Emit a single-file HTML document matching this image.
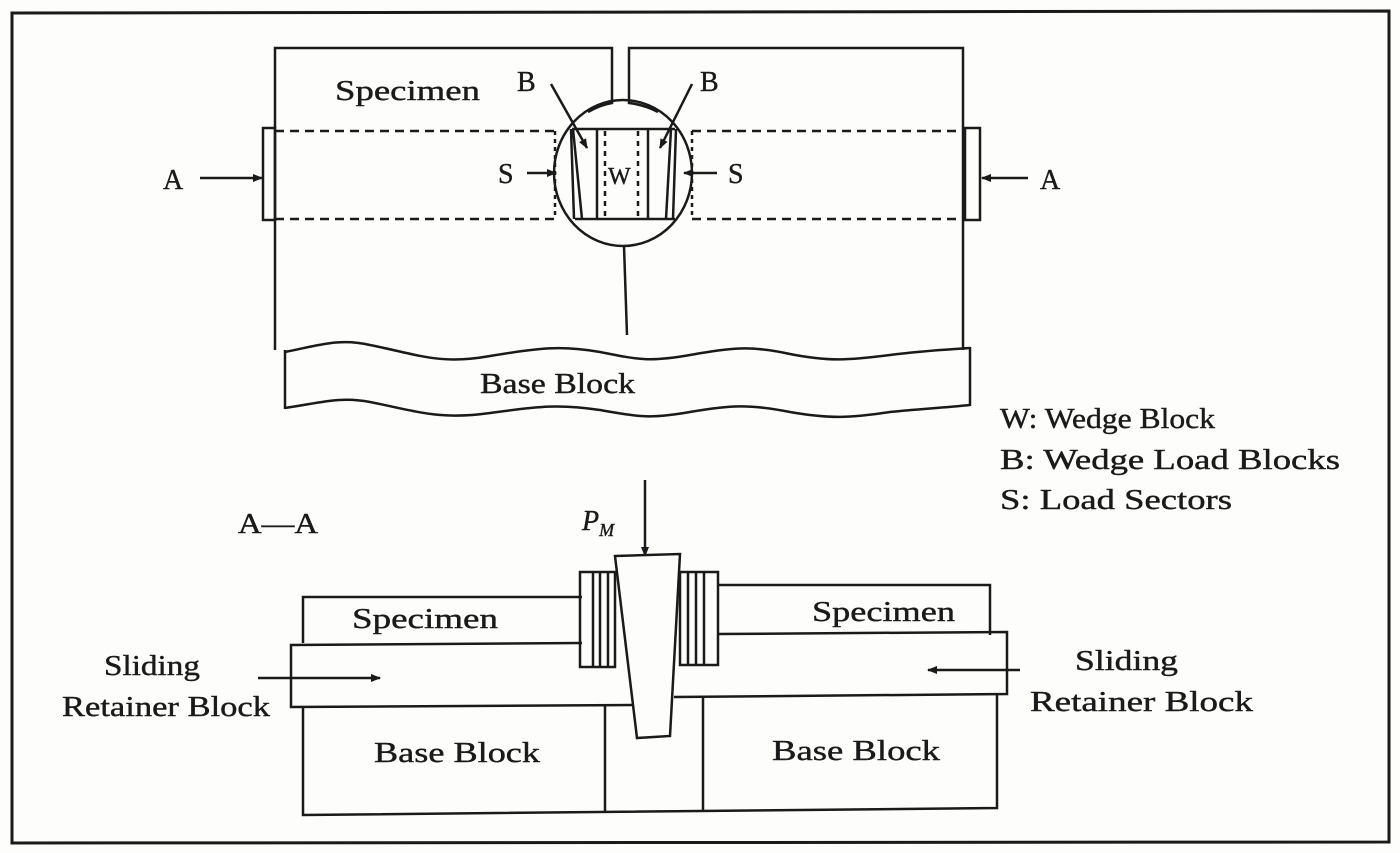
<!DOCTYPE html>
<html><head><meta charset="utf-8"><style>
html,body{margin:0;padding:0;background:#fdfdfb;}
svg{display:block;}
text{font-family:"Liberation Serif",serif;fill:#1a1a1a;stroke:#1a1a1a;stroke-width:0.4;}
</style></head><body>
<svg width="1400" height="853" viewBox="0 0 1400 853" xmlns="http://www.w3.org/2000/svg">
<defs>
<marker id="ah" markerWidth="10" markerHeight="8" refX="9" refY="4" orient="auto" markerUnits="userSpaceOnUse"><path d="M0,0 L10,4 L0,8 z" fill="#1a1a1a"/></marker>
</defs>
<rect x="0" y="0" width="1400" height="853" fill="#fdfdfb"/>
<g stroke="#1a1a1a" fill="none" stroke-width="2.5">
<path d="M12,13 L1389,11 L1389,842 L12,843 Z" stroke-width="3"/>
<path d="M275,350 L275,48 L612,48 L612,103 Q600,105 588,112"/>
<path d="M963,350 L963,48 L629,48 L629,103 Q645,105 658,112"/>
<ellipse cx="623" cy="173" rx="69" ry="73"/>
<line x1="624" y1="246" x2="627" y2="335"/>
<rect x="263" y="128" width="12" height="92"/>
<rect x="965" y="128" width="15" height="92"/>
<line x1="275" y1="131" x2="555" y2="131" stroke-dasharray="9,6"/>
<line x1="692" y1="131" x2="965" y2="131" stroke-dasharray="9,6"/>
<line x1="275" y1="219" x2="555" y2="219" stroke-dasharray="9,6"/>
<line x1="692" y1="219" x2="965" y2="219" stroke-dasharray="9,6"/>
<line x1="555" y1="131" x2="555" y2="219" stroke-dasharray="4,4"/>
<line x1="692" y1="131" x2="692" y2="219" stroke-dasharray="4,4"/>
<line x1="572" y1="129" x2="675" y2="129"/>
<line x1="575" y1="219" x2="675" y2="219"/>
<line x1="571" y1="129" x2="574" y2="219"/>
<line x1="573" y1="129" x2="582" y2="219"/>
<line x1="676" y1="129" x2="673" y2="219"/>
<line x1="671" y1="129" x2="666" y2="219"/>
<line x1="597" y1="129" x2="597" y2="219"/>
<line x1="648" y1="129" x2="648" y2="219"/>
<line x1="605" y1="131" x2="605" y2="219" stroke-dasharray="5,5"/>
<line x1="638" y1="131" x2="638" y2="219" stroke-dasharray="5,5"/>
<line x1="551" y1="84" x2="587" y2="148" marker-end="url(#ah)"/>
<line x1="692" y1="84" x2="660" y2="148" marker-end="url(#ah)"/>
<line x1="527" y1="173" x2="556" y2="173" marker-end="url(#ah)"/>
<line x1="717" y1="173" x2="684" y2="173" marker-end="url(#ah)"/>
<line x1="200" y1="178" x2="262" y2="178" marker-end="url(#ah)"/>
<line x1="1028" y1="178" x2="982" y2="178" marker-end="url(#ah)"/>
<path d="M285,352 C320,345 340,338 370,345 C420,355 440,365 490,356 C540,348 560,345 600,352 C640,360 650,362 690,355 C730,348 750,345 790,354 C830,362 850,360 890,355 C920,351 940,350 970,348"/>
<path d="M285,408 C320,403 340,396 370,402 C420,412 440,420 490,413 C540,406 560,404 600,410 C640,417 650,419 690,412 C730,405 750,404 790,412 C830,419 850,418 890,412 C920,409 940,408 970,405"/>
<line x1="285" y1="350" x2="285" y2="409"/>
<line x1="970" y1="347" x2="970" y2="406"/>
<line x1="645" y1="480" x2="645" y2="556" marker-end="url(#ah)"/>
<path d="M582,597 L303,597 L303,643"/>
<path d="M718,585 L990,585 L990,635"/>
<path d="M582,643 L291,645 L291,707 L642,705"/>
<path d="M718,634 L1007,632 L1007,694 L674,697"/>
<path d="M303,707 L303,815 L997,808 L997,695"/>
<line x1="605" y1="706" x2="605" y2="813"/>
<line x1="703" y1="696" x2="703" y2="810"/>
<rect x="580" y="572" width="35" height="95"/>
<line x1="593" y1="572" x2="593" y2="667"/>
<line x1="600" y1="572" x2="600" y2="667"/>
<line x1="608" y1="572" x2="608" y2="667"/>
<rect x="680" y="572" width="38" height="93"/>
<line x1="688" y1="572" x2="688" y2="665"/>
<line x1="696" y1="572" x2="696" y2="665"/>
<line x1="704" y1="572" x2="704" y2="665"/>
<path d="M615,556 L680,554 L670,736 L637,738 Z" fill="#fdfdfb"/>
<line x1="258" y1="678" x2="380" y2="678" marker-end="url(#ah)"/>
<line x1="1020" y1="670" x2="928" y2="670" marker-end="url(#ah)"/>
</g>
<g font-size="28">
<text x="335" y="100" textLength="145" lengthAdjust="spacingAndGlyphs">Specimen</text>
<text x="517" y="91">B</text>
<text x="700" y="91">B</text>
<text x="498" y="183">S</text>
<text x="728" y="183">S</text>
<text x="608" y="184" font-size="24">W</text>
<text x="163" y="189">A</text>
<text x="1040" y="189">A</text>
<text x="480" y="393" textLength="155" lengthAdjust="spacingAndGlyphs">Base Block</text>
<text x="1000" y="428" textLength="215" lengthAdjust="spacingAndGlyphs">W: Wedge Block</text>
<text x="1000" y="469" textLength="340" lengthAdjust="spacingAndGlyphs">B: Wedge Load Blocks</text>
<text x="1000" y="509" textLength="232" lengthAdjust="spacingAndGlyphs">S: Load Sectors</text>
<text x="238" y="533" textLength="80" lengthAdjust="spacingAndGlyphs">A—A</text>
<text x="582" y="530" font-style="italic">P<tspan font-size="18" dy="6">M</tspan></text>
<text x="352" y="628" textLength="146" lengthAdjust="spacingAndGlyphs">Specimen</text>
<text x="812" y="621" textLength="143" lengthAdjust="spacingAndGlyphs">Specimen</text>
<text x="104" y="675" textLength="96" lengthAdjust="spacingAndGlyphs">Sliding</text>
<text x="62" y="716" textLength="208" lengthAdjust="spacingAndGlyphs">Retainer Block</text>
<text x="1075" y="670" textLength="103" lengthAdjust="spacingAndGlyphs">Sliding</text>
<text x="1030" y="711" textLength="223" lengthAdjust="spacingAndGlyphs">Retainer Block</text>
<text x="374" y="762" textLength="166" lengthAdjust="spacingAndGlyphs">Base Block</text>
<text x="772" y="760" textLength="168" lengthAdjust="spacingAndGlyphs">Base Block</text>
</g>
</svg>
</body></html>
